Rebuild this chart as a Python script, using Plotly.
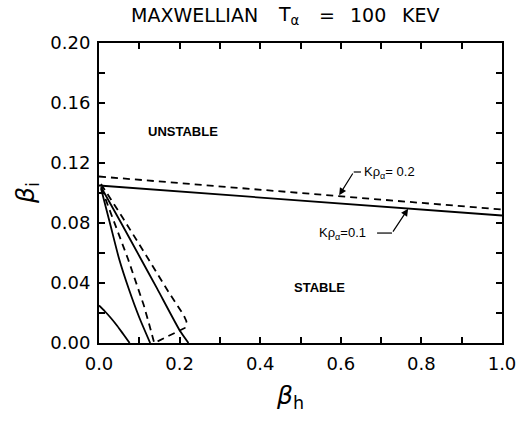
import plotly.graph_objects as go

# Kρα = 0.1 (solid) and 0.2 (dashed) stability boundaries
upper_x = [0.0, 1.0]
upper_solid_y = [0.105, 0.085]
upper_dashed_y = [0.111, 0.089]

inner_solid_x = [0.005, 0.028, 0.050, 0.074, 0.100, 0.127]
inner_solid_y = [0.103, 0.079, 0.056, 0.036, 0.017, 0.0]

outer_solid_x = [0.005, 0.055, 0.103, 0.144, 0.202, 0.222]
outer_solid_y = [0.104, 0.080, 0.0565, 0.0364, 0.0076, 0.0]

dashed_loop_x = [0.005, 0.060, 0.124, 0.175, 0.210, 0.217, 0.213, 0.160, 0.137, 0.125, 0.111, 0.072, 0.035, 0.005]
dashed_loop_y = [0.106, 0.083, 0.0553, 0.033, 0.0187, 0.0145, 0.010, 0.003, 0.0, 0.012, 0.0253, 0.056, 0.083, 0.104]

arc_x = [0.0, 0.015, 0.030, 0.045, 0.060, 0.076]
arc_y = [0.025, 0.021, 0.0165, 0.0115, 0.006, 0.0]

x_ticks = [0.0, 0.1, 0.2, 0.3, 0.4, 0.5, 0.6, 0.7, 0.8, 0.9, 1.0]
x_tick_text = ["0.0", "", "0.2", "", "0.4", "", "0.6", "", "0.8", "", "1.0"]
y_ticks = [0.0, 0.02, 0.04, 0.06, 0.08, 0.10, 0.12, 0.14, 0.16, 0.18, 0.20]
y_tick_text = ["0.00", "", "0.04", "", "0.08", "", "0.12", "", "0.16", "", "0.20"]

title_parts = ["MAXWELLIAN", "T<sub>α</sub>", "=", "100", "KEV"]
title_pos = [0.236, 0.472, 0.566, 0.667, 0.799]

LW = 1.8
DASH = "7px,5px"
fig = go.Figure()
fig.add_trace(go.Scatter(x=upper_x, y=upper_solid_y, mode="lines", line=dict(color="black", width=LW)))
fig.add_trace(go.Scatter(x=upper_x, y=upper_dashed_y, mode="lines", line=dict(color="black", width=LW, dash=DASH)))
fig.add_trace(go.Scatter(x=inner_solid_x, y=inner_solid_y, mode="lines", line=dict(color="black", width=LW, shape="spline", smoothing=0.6)))
fig.add_trace(go.Scatter(x=outer_solid_x, y=outer_solid_y, mode="lines", line=dict(color="black", width=LW, shape="spline", smoothing=0.6)))
fig.add_trace(go.Scatter(x=dashed_loop_x, y=dashed_loop_y, mode="lines", line=dict(color="black", width=LW, dash=DASH)))
fig.add_trace(go.Scatter(x=arc_x, y=arc_y, mode="lines", line=dict(color="black", width=LW, shape="spline", smoothing=0.8)))

font_family = "Liberation Sans, Arial, sans-serif"
tick_family = "DejaVu Sans, sans-serif"
axis_common = dict(
    showline=True, linecolor="black", linewidth=2, mirror="ticks",
    ticks="inside", ticklen=6, tickwidth=1.5, tickcolor="black",
    showgrid=False, zeroline=False, automargin=False, ticklabelstandoff=3,
    tickfont=dict(family=tick_family, size=18, color="black"),
)
fig.update_xaxes(range=[0, 1.0], tickvals=x_ticks, ticktext=x_tick_text, **axis_common)
fig.update_yaxes(range=[0, 0.20], tickvals=y_ticks, ticktext=y_tick_text, **axis_common)

anns = []
for txt, px in zip(title_parts, title_pos):
    anns.append(dict(text=txt, xref="paper", yref="paper", x=px, y=1.0, yshift=28,
                     showarrow=False, font=dict(family=tick_family, size=19, color="black"),
                     xanchor="center", yanchor="middle"))
anns += [
    dict(text="<b>UNSTABLE</b>", x=0.208, y=0.141, showarrow=False,
         font=dict(family=font_family, size=13, color="black")),
    dict(text="<b>STABLE</b>", x=0.548, y=0.0373, showarrow=False,
         font=dict(family=font_family, size=13, color="black")),
    dict(text="<i>β</i><sub>h</sub>", xref="paper", yref="paper", x=0.475, y=0, yshift=-72,
         showarrow=False, font=dict(family="DejaVu Sans, sans-serif", size=25, color="black")),
    dict(text="<i>β</i><sub>i</sub>", xref="paper", yref="paper", x=0, xshift=-90, y=0.5, textangle=-90,
         showarrow=False, font=dict(family="DejaVu Sans, sans-serif", size=25, color="black")),
    dict(text="Kρ<sub>α</sub>= 0.2", x=0.652, y=0.114, xanchor="left", showarrow=False,
         font=dict(family=font_family, size=13, color="black")),
    dict(text="Kρ<sub>α</sub>=0.1", x=0.668, y=0.0733, xanchor="right", showarrow=False,
         font=dict(family=font_family, size=13, color="black")),
    dict(text="", x=0.596, y=0.0985, ax=0.632, ay=0.114, axref="x", ayref="y", showarrow=True,
         arrowhead=2, arrowsize=1.2, arrowwidth=1.2, arrowcolor="black"),
    dict(text="", x=0.767, y=0.0895, ax=0.727, ay=0.0733, axref="x", ayref="y", showarrow=True,
         arrowhead=2, arrowsize=1.2, arrowwidth=1.2, arrowcolor="black"),
]
fig.update_layout(annotations=anns)
fig.add_shape(type="line", x0=0.632, y0=0.114, x1=0.650, y1=0.114, line=dict(color="black", width=1.2))
fig.add_shape(type="line", x0=0.690, y0=0.0733, x1=0.727, y1=0.0733, line=dict(color="black", width=1.2))

fig.update_layout(
    width=517, height=425, showlegend=False, autosize=False,
    margin=dict(l=99, r=15, t=43, b=82),
    plot_bgcolor="white", paper_bgcolor="white",
)
fig.write_html("out.html")
